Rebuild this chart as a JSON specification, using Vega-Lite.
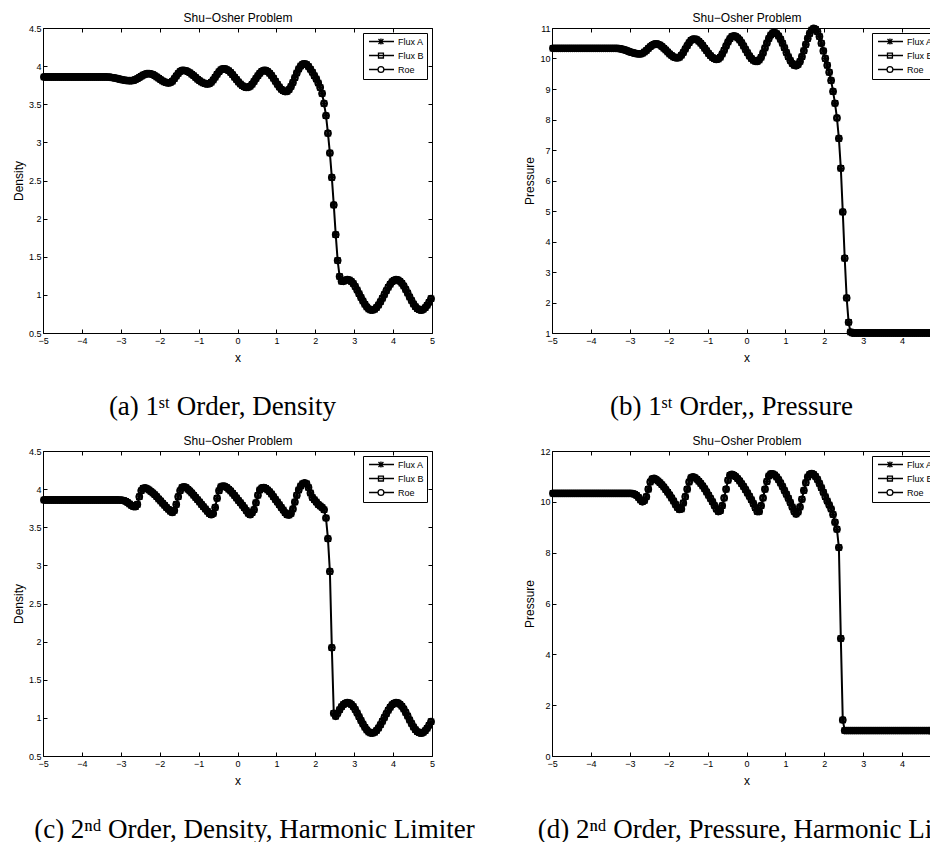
{
  "$schema": "https://vega.github.io/schema/vega-lite/v6.json",
  "usermeta": {"embedOptions": {"actions": false}},
  "padding": {"left": 11, "top": 11, "right": 0, "bottom": 0},
  "background": "white",
  "datasets": {
    "grid": [
      {"x":-4.975,"a":3.857,"b":10.333,"c":3.857,"d":10.333},
      {"x":-4.925,"a":3.857,"b":10.333,"c":3.857,"d":10.333},
      {"x":-4.875,"a":3.857,"b":10.333,"c":3.857,"d":10.333},
      {"x":-4.825,"a":3.857,"b":10.333,"c":3.857,"d":10.333},
      {"x":-4.775,"a":3.857,"b":10.333,"c":3.857,"d":10.333},
      {"x":-4.725,"a":3.857,"b":10.333,"c":3.857,"d":10.333},
      {"x":-4.675,"a":3.857,"b":10.333,"c":3.857,"d":10.333},
      {"x":-4.625,"a":3.857,"b":10.333,"c":3.857,"d":10.333},
      {"x":-4.575,"a":3.857,"b":10.333,"c":3.857,"d":10.333},
      {"x":-4.525,"a":3.857,"b":10.333,"c":3.857,"d":10.333},
      {"x":-4.475,"a":3.857,"b":10.333,"c":3.857,"d":10.333},
      {"x":-4.425,"a":3.857,"b":10.333,"c":3.857,"d":10.333},
      {"x":-4.375,"a":3.857,"b":10.333,"c":3.857,"d":10.333},
      {"x":-4.325,"a":3.857,"b":10.333,"c":3.857,"d":10.333},
      {"x":-4.275,"a":3.857,"b":10.333,"c":3.857,"d":10.333},
      {"x":-4.225,"a":3.857,"b":10.333,"c":3.857,"d":10.333},
      {"x":-4.175,"a":3.857,"b":10.333,"c":3.857,"d":10.333},
      {"x":-4.125,"a":3.857,"b":10.333,"c":3.857,"d":10.333},
      {"x":-4.075,"a":3.857,"b":10.333,"c":3.857,"d":10.333},
      {"x":-4.025,"a":3.857,"b":10.333,"c":3.857,"d":10.333},
      {"x":-3.975,"a":3.857,"b":10.333,"c":3.857,"d":10.333},
      {"x":-3.925,"a":3.857,"b":10.333,"c":3.857,"d":10.333},
      {"x":-3.875,"a":3.857,"b":10.333,"c":3.857,"d":10.333},
      {"x":-3.825,"a":3.857,"b":10.333,"c":3.857,"d":10.333},
      {"x":-3.775,"a":3.857,"b":10.333,"c":3.857,"d":10.333},
      {"x":-3.725,"a":3.857,"b":10.333,"c":3.857,"d":10.333},
      {"x":-3.675,"a":3.857,"b":10.333,"c":3.857,"d":10.333},
      {"x":-3.625,"a":3.857,"b":10.333,"c":3.857,"d":10.333},
      {"x":-3.575,"a":3.857,"b":10.333,"c":3.857,"d":10.333},
      {"x":-3.525,"a":3.857,"b":10.333,"c":3.857,"d":10.333},
      {"x":-3.475,"a":3.857,"b":10.333,"c":3.857,"d":10.333},
      {"x":-3.425,"a":3.857,"b":10.333,"c":3.857,"d":10.333},
      {"x":-3.375,"a":3.857,"b":10.333,"c":3.857,"d":10.333},
      {"x":-3.325,"a":3.856,"b":10.332,"c":3.857,"d":10.333},
      {"x":-3.275,"a":3.854,"b":10.326,"c":3.857,"d":10.333},
      {"x":-3.225,"a":3.850,"b":10.315,"c":3.857,"d":10.333},
      {"x":-3.175,"a":3.846,"b":10.298,"c":3.857,"d":10.333},
      {"x":-3.125,"a":3.840,"b":10.278,"c":3.857,"d":10.333},
      {"x":-3.075,"a":3.834,"b":10.256,"c":3.857,"d":10.333},
      {"x":-3.025,"a":3.828,"b":10.232,"c":3.856,"d":10.332},
      {"x":-2.975,"a":3.822,"b":10.209,"c":3.855,"d":10.33},
      {"x":-2.925,"a":3.817,"b":10.188,"c":3.850,"d":10.32},
      {"x":-2.875,"a":3.813,"b":10.171,"c":3.840,"d":10.30},
      {"x":-2.825,"a":3.810,"b":10.158,"c":3.825,"d":10.25},
      {"x":-2.775,"a":3.808,"b":10.151,"c":3.805,"d":10.17},
      {"x":-2.725,"a":3.808,"b":10.151,"c":3.785,"d":10.07},
      {"x":-2.675,"a":3.813,"b":10.170,"c":3.772,"d":10.00},
      {"x":-2.625,"a":3.823,"b":10.210,"c":3.770,"d":10.05},
      {"x":-2.575,"a":3.836,"b":10.265,"c":3.800,"d":10.20},
      {"x":-2.525,"a":3.852,"b":10.327,"c":3.900,"d":10.50},
      {"x":-2.475,"a":3.868,"b":10.388,"c":3.980,"d":10.78},
      {"x":-2.425,"a":3.882,"b":10.438,"c":4.010,"d":10.90},
      {"x":-2.375,"a":3.893,"b":10.470,"c":4.015,"d":10.92},
      {"x":-2.325,"a":3.900,"b":10.480,"c":4.005,"d":10.88},
      {"x":-2.275,"a":3.902,"b":10.469,"c":3.990,"d":10.82},
      {"x":-2.225,"a":3.898,"b":10.440,"c":3.970,"d":10.75},
      {"x":-2.175,"a":3.889,"b":10.395,"c":3.950,"d":10.67},
      {"x":-2.125,"a":3.875,"b":10.340,"c":3.925,"d":10.58},
      {"x":-2.075,"a":3.859,"b":10.276,"c":3.900,"d":10.48},
      {"x":-2.025,"a":3.841,"b":10.210,"c":3.870,"d":10.38},
      {"x":-1.975,"a":3.822,"b":10.149,"c":3.845,"d":10.27},
      {"x":-1.925,"a":3.806,"b":10.095,"c":3.815,"d":10.15},
      {"x":-1.875,"a":3.792,"b":10.053,"c":3.790,"d":10.03},
      {"x":-1.825,"a":3.783,"b":10.027,"c":3.760,"d":9.90},
      {"x":-1.775,"a":3.779,"b":10.020,"c":3.735,"d":9.78},
      {"x":-1.725,"a":3.784,"b":10.045,"c":3.710,"d":9.70},
      {"x":-1.675,"a":3.803,"b":10.107,"c":3.695,"d":9.72},
      {"x":-1.625,"a":3.834,"b":10.197,"c":3.720,"d":9.95},
      {"x":-1.575,"a":3.869,"b":10.308,"c":3.800,"d":10.20},
      {"x":-1.525,"a":3.904,"b":10.420,"c":3.900,"d":10.50},
      {"x":-1.475,"a":3.930,"b":10.519,"c":3.980,"d":10.78},
      {"x":-1.425,"a":3.944,"b":10.595,"c":4.020,"d":10.95},
      {"x":-1.375,"a":3.944,"b":10.635,"c":4.030,"d":10.98},
      {"x":-1.325,"a":3.938,"b":10.637,"c":4.020,"d":10.95},
      {"x":-1.275,"a":3.927,"b":10.614,"c":4.000,"d":10.89},
      {"x":-1.225,"a":3.912,"b":10.569,"c":3.975,"d":10.81},
      {"x":-1.175,"a":3.894,"b":10.504,"c":3.950,"d":10.72},
      {"x":-1.125,"a":3.873,"b":10.428,"c":3.920,"d":10.62},
      {"x":-1.075,"a":3.851,"b":10.340,"c":3.890,"d":10.51},
      {"x":-1.025,"a":3.829,"b":10.251,"c":3.860,"d":10.39},
      {"x":-0.975,"a":3.809,"b":10.166,"c":3.830,"d":10.26},
      {"x":-0.925,"a":3.791,"b":10.094,"c":3.800,"d":10.13},
      {"x":-0.875,"a":3.778,"b":10.031,"c":3.770,"d":10.00},
      {"x":-0.825,"a":3.769,"b":9.989,"c":3.740,"d":9.86},
      {"x":-0.775,"a":3.765,"b":9.971,"c":3.710,"d":9.72},
      {"x":-0.725,"a":3.770,"b":9.982,"c":3.680,"d":9.62},
      {"x":-0.675,"a":3.788,"b":10.042,"c":3.665,"d":9.65},
      {"x":-0.625,"a":3.817,"b":10.144,"c":3.680,"d":9.85},
      {"x":-0.575,"a":3.853,"b":10.270,"c":3.760,"d":10.15},
      {"x":-0.525,"a":3.892,"b":10.412,"c":3.880,"d":10.50},
      {"x":-0.475,"a":3.926,"b":10.544,"c":3.980,"d":10.85},
      {"x":-0.425,"a":3.951,"b":10.651,"c":4.030,"d":11.05},
      {"x":-0.375,"a":3.964,"b":10.719,"c":4.040,"d":11.08},
      {"x":-0.325,"a":3.964,"b":10.740,"c":4.035,"d":11.05},
      {"x":-0.275,"a":3.954,"b":10.722,"c":4.020,"d":10.99},
      {"x":-0.225,"a":3.938,"b":10.676,"c":4.000,"d":10.91},
      {"x":-0.175,"a":3.915,"b":10.606,"c":3.975,"d":10.82},
      {"x":-0.125,"a":3.887,"b":10.514,"c":3.945,"d":10.71},
      {"x":-0.075,"a":3.855,"b":10.410,"c":3.915,"d":10.60},
      {"x":-0.025,"a":3.823,"b":10.297,"c":3.885,"d":10.48},
      {"x":0.025,"a":3.793,"b":10.187,"c":3.850,"d":10.35},
      {"x":0.075,"a":3.765,"b":10.086,"c":3.820,"d":10.22},
      {"x":0.125,"a":3.743,"b":10.003,"c":3.790,"d":10.08},
      {"x":0.175,"a":3.728,"b":9.942,"c":3.755,"d":9.93},
      {"x":0.225,"a":3.721,"b":9.908,"c":3.720,"d":9.77},
      {"x":0.275,"a":3.722,"b":9.903,"c":3.685,"d":9.62},
      {"x":0.325,"a":3.737,"b":9.948,"c":3.665,"d":9.62},
      {"x":0.375,"a":3.763,"b":10.044,"c":3.690,"d":9.85},
      {"x":0.425,"a":3.798,"b":10.183,"c":3.730,"d":10.15},
      {"x":0.475,"a":3.837,"b":10.343,"c":3.820,"d":10.50},
      {"x":0.525,"a":3.875,"b":10.505,"c":3.920,"d":10.80},
      {"x":0.575,"a":3.908,"b":10.654,"c":3.990,"d":11.02},
      {"x":0.625,"a":3.932,"b":10.768,"c":4.015,"d":11.10},
      {"x":0.675,"a":3.944,"b":10.836,"c":4.020,"d":11.10},
      {"x":0.725,"a":3.943,"b":10.848,"c":4.010,"d":11.06},
      {"x":0.775,"a":3.931,"b":10.814,"c":3.990,"d":10.98},
      {"x":0.825,"a":3.908,"b":10.741,"c":3.965,"d":10.87},
      {"x":0.875,"a":3.877,"b":10.632,"c":3.935,"d":10.74},
      {"x":0.925,"a":3.841,"b":10.499,"c":3.900,"d":10.60},
      {"x":0.975,"a":3.801,"b":10.351,"c":3.865,"d":10.45},
      {"x":1.025,"a":3.762,"b":10.198,"c":3.830,"d":10.30},
      {"x":1.075,"a":3.726,"b":10.054,"c":3.795,"d":10.14},
      {"x":1.125,"a":3.696,"b":9.931,"c":3.760,"d":9.97},
      {"x":1.175,"a":3.676,"b":9.834,"c":3.725,"d":9.80},
      {"x":1.225,"a":3.666,"b":9.777,"c":3.690,"d":9.62},
      {"x":1.275,"a":3.669,"b":9.760,"c":3.665,"d":9.52},
      {"x":1.325,"a":3.692,"b":9.801,"c":3.660,"d":9.60},
      {"x":1.375,"a":3.732,"b":9.904,"c":3.680,"d":9.80},
      {"x":1.425,"a":3.786,"b":10.061,"c":3.740,"d":10.10},
      {"x":1.475,"a":3.848,"b":10.252,"c":3.830,"d":10.45},
      {"x":1.525,"a":3.909,"b":10.457,"c":3.920,"d":10.75},
      {"x":1.575,"a":3.962,"b":10.653,"c":3.990,"d":10.98},
      {"x":1.625,"a":4.003,"b":10.818,"c":4.040,"d":11.08},
      {"x":1.675,"a":4.026,"b":10.933,"c":4.070,"d":11.11},
      {"x":1.725,"a":4.030,"b":10.986,"c":4.080,"d":11.08},
      {"x":1.775,"a":4.020,"b":10.960,"c":4.070,"d":11.00},
      {"x":1.825,"a":3.995,"b":10.880,"c":4.020,"d":10.88},
      {"x":1.875,"a":3.960,"b":10.720,"c":3.950,"d":10.72},
      {"x":1.925,"a":3.920,"b":10.500,"c":3.890,"d":10.55},
      {"x":1.975,"a":3.875,"b":10.250,"c":3.860,"d":10.38},
      {"x":2.025,"a":3.830,"b":10.000,"c":3.830,"d":10.20},
      {"x":2.075,"a":3.780,"b":9.780,"c":3.800,"d":10.03},
      {"x":2.125,"a":3.720,"b":9.550,"c":3.780,"d":9.88},
      {"x":2.175,"a":3.640,"b":9.280,"c":3.760,"d":9.72},
      {"x":2.225,"a":3.510,"b":8.920,"c":3.730,"d":9.50},
      {"x":2.275,"a":3.350,"b":8.530,"c":3.620,"d":9.20},
      {"x":2.325,"a":3.120,"b":8.050,"c":3.350,"d":8.92},
      {"x":2.375,"a":2.860,"b":7.380,"c":2.920,"d":8.20},
      {"x":2.425,"a":2.540,"b":6.400,"c":1.920,"d":4.62},
      {"x":2.475,"a":2.180,"b":4.970,"c":1.060,"d":1.42},
      {"x":2.525,"a":1.790,"b":3.450,"c":1.020,"d":1.00},
      {"x":2.575,"a":1.450,"b":2.150,"c":1.060,"d":1.00},
      {"x":2.625,"a":1.240,"b":1.350,"c":1.106,"d":1.00},
      {"x":2.675,"a":1.180,"b":1.030,"c":1.145,"d":1.00},
      {"x":2.725,"a":1.178,"b":1.000,"c":1.174,"d":1.00},
      {"x":2.775,"a":1.193,"b":1.000,"c":1.193,"d":1.00},
      {"x":2.825,"a":1.200,"b":1.000,"c":1.200,"d":1.00},
      {"x":2.875,"a":1.194,"b":1.000,"c":1.194,"d":1.00},
      {"x":2.925,"a":1.177,"b":1.000,"c":1.177,"d":1.00},
      {"x":2.975,"a":1.148,"b":1.000,"c":1.148,"d":1.00},
      {"x":3.025,"a":1.110,"b":1.000,"c":1.110,"d":1.00},
      {"x":3.075,"a":1.065,"b":1.000,"c":1.065,"d":1.00},
      {"x":3.125,"a":1.016,"b":1.000,"c":1.016,"d":1.00},
      {"x":3.175,"a":0.967,"b":1.000,"c":0.967,"d":1.00},
      {"x":3.225,"a":0.919,"b":1.000,"c":0.919,"d":1.00},
      {"x":3.275,"a":0.876,"b":1.000,"c":0.876,"d":1.00},
      {"x":3.325,"a":0.841,"b":1.000,"c":0.841,"d":1.00},
      {"x":3.375,"a":0.816,"b":1.000,"c":0.816,"d":1.00},
      {"x":3.425,"a":0.802,"b":1.000,"c":0.802,"d":1.00},
      {"x":3.475,"a":0.801,"b":1.000,"c":0.801,"d":1.00},
      {"x":3.525,"a":0.811,"b":1.000,"c":0.811,"d":1.00},
      {"x":3.575,"a":0.834,"b":1.000,"c":0.834,"d":1.00},
      {"x":3.625,"a":0.867,"b":1.000,"c":0.867,"d":1.00},
      {"x":3.675,"a":0.909,"b":1.000,"c":0.909,"d":1.00},
      {"x":3.725,"a":0.956,"b":1.000,"c":0.956,"d":1.00},
      {"x":3.775,"a":1.005,"b":1.000,"c":1.005,"d":1.00},
      {"x":3.825,"a":1.054,"b":1.000,"c":1.054,"d":1.00},
      {"x":3.875,"a":1.100,"b":1.000,"c":1.100,"d":1.00},
      {"x":3.925,"a":1.140,"b":1.000,"c":1.140,"d":1.00},
      {"x":3.975,"a":1.171,"b":1.000,"c":1.171,"d":1.00},
      {"x":4.025,"a":1.191,"b":1.000,"c":1.191,"d":1.00},
      {"x":4.075,"a":1.200,"b":1.000,"c":1.200,"d":1.00},
      {"x":4.125,"a":1.196,"b":1.000,"c":1.196,"d":1.00},
      {"x":4.175,"a":1.180,"b":1.000,"c":1.180,"d":1.00},
      {"x":4.225,"a":1.152,"b":1.000,"c":1.152,"d":1.00},
      {"x":4.275,"a":1.115,"b":1.000,"c":1.115,"d":1.00},
      {"x":4.325,"a":1.072,"b":1.000,"c":1.072,"d":1.00},
      {"x":4.375,"a":1.023,"b":1.000,"c":1.023,"d":1.00},
      {"x":4.425,"a":0.973,"b":1.000,"c":0.973,"d":1.00},
      {"x":4.475,"a":0.925,"b":1.000,"c":0.925,"d":1.00},
      {"x":4.525,"a":0.881,"b":1.000,"c":0.881,"d":1.00},
      {"x":4.575,"a":0.845,"b":1.000,"c":0.845,"d":1.00},
      {"x":4.625,"a":0.819,"b":1.000,"c":0.819,"d":1.00},
      {"x":4.675,"a":0.804,"b":1.000,"c":0.804,"d":1.00},
      {"x":4.725,"a":0.800,"b":1.000,"c":0.800,"d":1.00},
      {"x":4.775,"a":0.810,"b":1.000,"c":0.810,"d":1.00},
      {"x":4.825,"a":0.831,"b":1.000,"c":0.831,"d":1.00},
      {"x":4.875,"a":0.863,"b":1.000,"c":0.863,"d":1.00},
      {"x":4.925,"a":0.903,"b":1.000,"c":0.903,"d":1.00},
      {"x":4.975,"a":0.949,"b":1.000,"c":0.949,"d":1.00}
    ],
    "methods": [{"m": "Flux A"}, {"m": "Flux B"}, {"m": "Roe"}]
  },
  "columns": 2,
  "spacing": {"row": 118, "column": 120},
  "bounds": "flush",
  "resolve": {"scale": {"shape": "independent"}, "legend": {"shape": "independent"}},
  "concat": [
    {
      "width": 389, "height": 305,
      "data": {"name": "grid"},
      "title": {"text": "(a) 1ˢᵗ Order, Density", "dx": -15},
      "layer": [
        {"mark": {"type": "line", "color": "black", "strokeWidth": 2},
         "encoding": {
           "x": {"field": "x", "type": "quantitative", "scale": {"domain": [-5, 5], "nice": false}, "axis": {"orient": "bottom", "title": "x", "values": [-5,-4,-3,-2,-1,0,1,2,3,4,5]}},
           "y": {"field": "a", "type": "quantitative", "scale": {"domain": [0.5, 4.5], "nice": false, "zero": false}, "axis": {"orient": "left", "title": "Density", "values": [0.5,1,1.5,2,2.5,3,3.5,4,4.5], "format": ".1~f"}}}},
        {"mark": {"type": "point", "shape": "M-1,0H1M0,-1V1M-0.7,-0.7L0.7,0.7M-0.7,0.7L0.7,-0.7", "size": 36, "filled": false, "color": "black", "strokeWidth": 1.2, "opacity": 1},
         "encoding": {"x": {"field": "x", "type": "quantitative", "axis": null}, "y": {"field": "a", "type": "quantitative", "axis": null}}},
        {"mark": {"type": "point", "shape": "square", "size": 25, "filled": false, "color": "black", "strokeWidth": 1.5, "opacity": 1},
         "encoding": {"x": {"field": "x", "type": "quantitative", "axis": null}, "y": {"field": "a", "type": "quantitative", "axis": null}}},
        {"mark": {"type": "point", "shape": "circle", "size": 40, "filled": false, "color": "black", "strokeWidth": 1.5, "opacity": 1},
         "encoding": {
           "x": {"field": "x", "type": "quantitative", "axis": {"orient": "top", "labels": false, "title": "Shu−Osher Problem", "values": [-5,-4,-3,-2,-1,0,1,2,3,4,5]}},
           "y": {"field": "a", "type": "quantitative", "axis": {"orient": "right", "labels": false, "title": null, "values": [0.5,1,1.5,2,2.5,3,3.5,4,4.5]}}}},
        {"data": {"name": "methods"},
         "mark": {"type": "point", "size": 0, "color": "black", "filled": false},
         "encoding": {"shape": {"field": "m", "type": "nominal", "title": null,
           "scale": {"domain": ["Flux A", "Flux B", "Roe"], "range": [
             "M-0.55,0H5M1.55,-0.55L2.65,0.55M1.55,0.55L2.65,-0.55M2.1,-0.65V0.65",
             "M-0.55,0H5M1.55,-0.55H2.65V0.55H1.55Z",
             "M-0.55,0H1.45M2.75,0H5M2.75,0A0.65,0.65,0,1,1,1.45,0A0.65,0.65,0,1,1,2.75,0Z"]}}}}
      ],
      "resolve": {"axis": {"x": "independent", "y": "independent"}}
    },
    {
      "width": 389, "height": 305,
      "data": {"name": "grid"},
      "title": {"text": "(b) 1ˢᵗ Order,, Pressure", "dx": -15},
      "layer": [
        {"mark": {"type": "line", "color": "black", "strokeWidth": 2},
         "encoding": {
           "x": {"field": "x", "type": "quantitative", "scale": {"domain": [-5, 5], "nice": false}, "axis": {"orient": "bottom", "title": "x", "values": [-5,-4,-3,-2,-1,0,1,2,3,4,5]}},
           "y": {"field": "b", "type": "quantitative", "scale": {"domain": [1, 11], "nice": false, "zero": false}, "axis": {"orient": "left", "title": "Pressure", "values": [1,2,3,4,5,6,7,8,9,10,11], "format": "d"}}}},
        {"mark": {"type": "point", "shape": "M-1,0H1M0,-1V1M-0.7,-0.7L0.7,0.7M-0.7,0.7L0.7,-0.7", "size": 36, "filled": false, "color": "black", "strokeWidth": 1.2, "opacity": 1},
         "encoding": {"x": {"field": "x", "type": "quantitative", "axis": null}, "y": {"field": "b", "type": "quantitative", "axis": null}}},
        {"mark": {"type": "point", "shape": "square", "size": 25, "filled": false, "color": "black", "strokeWidth": 1.5, "opacity": 1},
         "encoding": {"x": {"field": "x", "type": "quantitative", "axis": null}, "y": {"field": "b", "type": "quantitative", "axis": null}}},
        {"mark": {"type": "point", "shape": "circle", "size": 40, "filled": false, "color": "black", "strokeWidth": 1.5, "opacity": 1},
         "encoding": {
           "x": {"field": "x", "type": "quantitative", "axis": {"orient": "top", "labels": false, "title": "Shu−Osher Problem", "values": [-5,-4,-3,-2,-1,0,1,2,3,4,5]}},
           "y": {"field": "b", "type": "quantitative", "axis": {"orient": "right", "labels": false, "title": null, "values": [1,2,3,4,5,6,7,8,9,10,11]}}}},
        {"data": {"name": "methods"},
         "mark": {"type": "point", "size": 0, "color": "black", "filled": false},
         "encoding": {"shape": {"field": "m", "type": "nominal", "title": null,
           "scale": {"domain": ["Flux A", "Flux B", "Roe"], "range": [
             "M-0.55,0H5M1.55,-0.55L2.65,0.55M1.55,0.55L2.65,-0.55M2.1,-0.65V0.65",
             "M-0.55,0H5M1.55,-0.55H2.65V0.55H1.55Z",
             "M-0.55,0H1.45M2.75,0H5M2.75,0A0.65,0.65,0,1,1,1.45,0A0.65,0.65,0,1,1,2.75,0Z"]}}}}
      ],
      "resolve": {"axis": {"x": "independent", "y": "independent"}}
    },
    {
      "width": 389, "height": 305,
      "data": {"name": "grid"},
      "title": {"text": "(c) 2ⁿᵈ Order, Density, Harmonic Limiter", "dx": 17},
      "layer": [
        {"mark": {"type": "line", "color": "black", "strokeWidth": 2},
         "encoding": {
           "x": {"field": "x", "type": "quantitative", "scale": {"domain": [-5, 5], "nice": false}, "axis": {"orient": "bottom", "title": "x", "values": [-5,-4,-3,-2,-1,0,1,2,3,4,5]}},
           "y": {"field": "c", "type": "quantitative", "scale": {"domain": [0.5, 4.5], "nice": false, "zero": false}, "axis": {"orient": "left", "title": "Density", "values": [0.5,1,1.5,2,2.5,3,3.5,4,4.5], "format": ".1~f"}}}},
        {"mark": {"type": "point", "shape": "M-1,0H1M0,-1V1M-0.7,-0.7L0.7,0.7M-0.7,0.7L0.7,-0.7", "size": 36, "filled": false, "color": "black", "strokeWidth": 1.2, "opacity": 1},
         "encoding": {"x": {"field": "x", "type": "quantitative", "axis": null}, "y": {"field": "c", "type": "quantitative", "axis": null}}},
        {"mark": {"type": "point", "shape": "square", "size": 25, "filled": false, "color": "black", "strokeWidth": 1.5, "opacity": 1},
         "encoding": {"x": {"field": "x", "type": "quantitative", "axis": null}, "y": {"field": "c", "type": "quantitative", "axis": null}}},
        {"mark": {"type": "point", "shape": "circle", "size": 40, "filled": false, "color": "black", "strokeWidth": 1.5, "opacity": 1},
         "encoding": {
           "x": {"field": "x", "type": "quantitative", "axis": {"orient": "top", "labels": false, "title": "Shu−Osher Problem", "values": [-5,-4,-3,-2,-1,0,1,2,3,4,5]}},
           "y": {"field": "c", "type": "quantitative", "axis": {"orient": "right", "labels": false, "title": null, "values": [0.5,1,1.5,2,2.5,3,3.5,4,4.5]}}}},
        {"data": {"name": "methods"},
         "mark": {"type": "point", "size": 0, "color": "black", "filled": false},
         "encoding": {"shape": {"field": "m", "type": "nominal", "title": null,
           "scale": {"domain": ["Flux A", "Flux B", "Roe"], "range": [
             "M-0.55,0H5M1.55,-0.55L2.65,0.55M1.55,0.55L2.65,-0.55M2.1,-0.65V0.65",
             "M-0.55,0H5M1.55,-0.55H2.65V0.55H1.55Z",
             "M-0.55,0H1.45M2.75,0H5M2.75,0A0.65,0.65,0,1,1,1.45,0A0.65,0.65,0,1,1,2.75,0Z"]}}}}
      ],
      "resolve": {"axis": {"x": "independent", "y": "independent"}}
    },
    {
      "width": 389, "height": 305,
      "data": {"name": "grid"},
      "title": {"text": "(d) 2ⁿᵈ Order, Pressure, Harmonic Limiter", "dx": 17},
      "layer": [
        {"mark": {"type": "line", "color": "black", "strokeWidth": 2},
         "encoding": {
           "x": {"field": "x", "type": "quantitative", "scale": {"domain": [-5, 5], "nice": false}, "axis": {"orient": "bottom", "title": "x", "values": [-5,-4,-3,-2,-1,0,1,2,3,4,5]}},
           "y": {"field": "d", "type": "quantitative", "scale": {"domain": [0, 12], "nice": false, "zero": false}, "axis": {"orient": "left", "title": "Pressure", "values": [0,2,4,6,8,10,12], "format": "d"}}}},
        {"mark": {"type": "point", "shape": "M-1,0H1M0,-1V1M-0.7,-0.7L0.7,0.7M-0.7,0.7L0.7,-0.7", "size": 36, "filled": false, "color": "black", "strokeWidth": 1.2, "opacity": 1},
         "encoding": {"x": {"field": "x", "type": "quantitative", "axis": null}, "y": {"field": "d", "type": "quantitative", "axis": null}}},
        {"mark": {"type": "point", "shape": "square", "size": 25, "filled": false, "color": "black", "strokeWidth": 1.5, "opacity": 1},
         "encoding": {"x": {"field": "x", "type": "quantitative", "axis": null}, "y": {"field": "d", "type": "quantitative", "axis": null}}},
        {"mark": {"type": "point", "shape": "circle", "size": 40, "filled": false, "color": "black", "strokeWidth": 1.5, "opacity": 1},
         "encoding": {
           "x": {"field": "x", "type": "quantitative", "axis": {"orient": "top", "labels": false, "title": "Shu−Osher Problem", "values": [-5,-4,-3,-2,-1,0,1,2,3,4,5]}},
           "y": {"field": "d", "type": "quantitative", "axis": {"orient": "right", "labels": false, "title": null, "values": [0,2,4,6,8,10,12]}}}},
        {"data": {"name": "methods"},
         "mark": {"type": "point", "size": 0, "color": "black", "filled": false},
         "encoding": {"shape": {"field": "m", "type": "nominal", "title": null,
           "scale": {"domain": ["Flux A", "Flux B", "Roe"], "range": [
             "M-0.55,0H5M1.55,-0.55L2.65,0.55M1.55,0.55L2.65,-0.55M2.1,-0.65V0.65",
             "M-0.55,0H5M1.55,-0.55H2.65V0.55H1.55Z",
             "M-0.55,0H1.45M2.75,0H5M2.75,0A0.65,0.65,0,1,1,1.45,0A0.65,0.65,0,1,1,2.75,0Z"]}}}}
      ],
      "resolve": {"axis": {"x": "independent", "y": "independent"}}
    }
  ],
  "config": {
    "font": "Liberation Sans",
    "view": {"stroke": "black", "strokeWidth": 1},
    "axis": {
      "domain": false, "grid": false,
      "ticks": true, "tickColor": "black", "tickSize": -4, "tickWidth": 1,
      "labelFont": "Liberation Sans", "labelFontSize": 9, "labelColor": "black", "labelPadding": 6,
      "labelFlush": false, "labelOverlap": false,
      "titleFont": "Liberation Sans", "titleFontSize": 12, "titleFontWeight": "normal", "titleColor": "black", "titlePadding": 3
    },
    "axisBottom": {"labelPadding": 7, "titlePadding": 7},
    "legend": {
      "orient": "top-right", "offset": 5, "padding": 3,
      "strokeColor": "black", "strokeWidth": 1, "fillColor": "white", "cornerRadius": 0,
      "labelFont": "Liberation Sans", "labelFontSize": 9, "labelColor": "black", "labelOffset": 21,
      "symbolSize": 81, "symbolStrokeColor": "black", "symbolStrokeWidth": 1.3, "symbolFillColor": "transparent", "symbolOpacity": 1,
      "rowPadding": 2
    },
    "title": {
      "orient": "bottom", "anchor": "middle", "offset": 31,
      "font": "Liberation Serif", "fontSize": 27, "fontWeight": "normal", "color": "black"
    }
  }
}
